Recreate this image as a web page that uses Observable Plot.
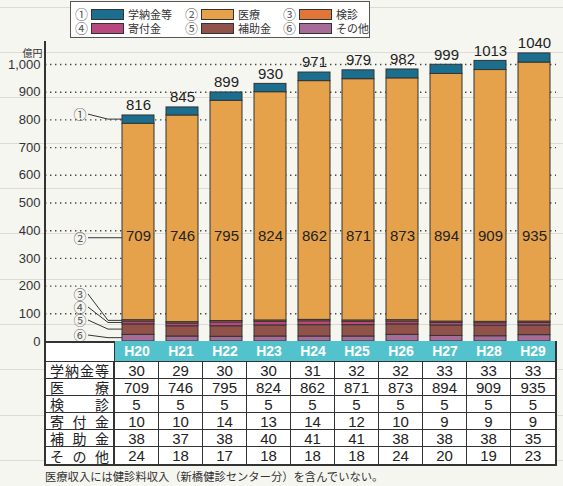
<!DOCTYPE html>
<html>
<head>
<meta charset="utf-8">
<script src="https://cdn.jsdelivr.net/npm/d3@7"></script>
<script src="https://cdn.jsdelivr.net/npm/@observablehq/plot@0.6"></script>
<style>
  html, body { margin: 0; padding: 0; }
  body {
    width: 563px; height: 486px; overflow: hidden;
    background-color: #f6f6f1;
    background-image: repeating-linear-gradient(to bottom,
      transparent 0px, transparent 6.8px, #dddbd3 6.8px, #dddbd3 7.9px, transparent 7.9px, transparent 45.3px);
    font-family: "Liberation Sans", Arial, sans-serif;
    color: #222;
  }
  #wrap { position: relative; width: 563px; height: 486px; }
  #chart { position: absolute; left: 0; top: 0; }
  #legend {
    position: absolute; left: 70px; top: 1px; width: 300px; height: 37px;
    box-sizing: border-box; background: #fff; border: 1px solid #555;
    font-family: "Noto Sans CJK JP", sans-serif; font-size: 11px; color: #333;
  }
  .li { position: absolute; height: 14px; line-height: 14px; white-space: nowrap; }
  .li .num { position: absolute; left: 0; top: 0; width: 13px; text-align: center; color: #555; font-size: 13px; line-height: 14px; }
  .li .sw { position: absolute; left: 16px; top: 2px; width: 31px; height: 9px; border: 1px solid #333; }
  .li .lb { position: absolute; left: 53px; top: 0; }
  #table {
    position: absolute; left: 44px; top: 341px; width: 513px; height: 125px;
    box-sizing: border-box; border: 2px solid #333; border-top: none; background: #fff;
    display: grid; grid-template-columns: 69px repeat(10, 1fr); grid-template-rows: 21px repeat(6, 1fr);
  }
  .c { box-sizing: border-box; border-right: 1.5px solid #333; border-bottom: 1px solid #333; line-height: 1;
       display: flex; align-items: center; justify-content: center; font-size: 15px; color: #222; overflow: visible; }
  .c.last { border-right: none; }
  .c.rowlast { border-bottom: none; }
  .h { background: #52c3cd; color: #fff; font-weight: bold; font-size: 14px; border-right: none; border-bottom: 1.5px solid #333; }
  .corner { border-top: 2px solid #333; border-bottom: 1.5px solid #333; background: #fff; }
  .rl { justify-content: space-between; padding: 0 4px; font-family: "Noto Sans CJK JP", sans-serif; font-size: 14px; border-right: 2px solid #333; }
  #note { position: absolute; left: 45px; top: 469px; line-height: 14px; font-family: "Noto Sans CJK JP", sans-serif; font-size: 11.3px; color: #333; white-space: nowrap; }
</style>
</head>
<body>
<div id="wrap">
  <div id="chart"></div>
  <div id="legend"></div>
  <div id="table"></div>
  <div id="note"></div>
</div>
<script>
// ---- data ----
const years = ["H20","H21","H22","H23","H24","H25","H26","H27","H28","H29"];
const seriesNames = ["学納金等","医療","検診","寄付金","補助金","その他"];
const rowLabels = ["学納金等","医療","検診","寄付金","補助金","その他"];
const circled = ["①","②","③","④","⑤","⑥"];
const gakunokin = [30,29,30,30,31,32,32,33,33,33];
const iryo      = [709,746,795,824,862,871,873,894,909,935];
const kenshin   = [5,5,5,5,5,5,5,5,5,5];
const kifukin   = [10,10,14,13,14,12,10,9,9,9];
const hojokin   = [38,37,38,40,41,41,38,38,38,35];
const sonota    = [24,18,17,18,18,18,24,20,19,23];
const totals    = [816,845,899,930,971,979,982,999,1013,1040];
const yTicks    = [0,100,200,300,400,500,600,700,800,900,1000];
const gridTicks = [100,200,300,400,500,600,700,800,900,1000];
const colors    = ["#1c6e8e","#e6a24b","#e27638","#b8487d","#91524a","#a66b96"];
const unitLabel = "億円";
const footnote  = "医療収入には健診料収入（新橋健診センター分）を含んでいない。";

const seriesValues = [gakunokin, iryo, kenshin, kifukin, hojokin, sonota];

// long data in stacking order (bottom first)
const stackOrder = [5,4,3,2,1,0];
const long = [];
for (const s of stackOrder) {
  years.forEach((yr, i) => long.push({year: yr, series: seriesNames[s], value: seriesValues[s][i]}));
}
const totalData = years.map((yr, i) => ({year: yr, total: totals[i]}));
const medLabelY = 380;
const medData = years.map((yr, i) => ({year: yr, v: iryo[i]}));

const chart = Plot.plot({
  width: 563, height: 342,
  marginTop: 64, marginBottom: 1, marginLeft: 45, marginRight: 7,
  style: {background: "transparent", fontFamily: "'Liberation Sans', Arial, sans-serif", color: "#333", overflow: "visible"},
  x: {domain: years, range: [116, 556], paddingInner: 0.27, paddingOuter: 0.135, axis: null},
  y: {domain: [0, 1000], axis: null},
  color: {domain: seriesNames, range: colors},
  marks: [
    Plot.ruleY(gridTicks, {stroke: "#444", strokeDasharray: "1.4,3.6", strokeWidth: 1.4}),
    Plot.barY(long, {x: "year", y: "value", fill: "series", stroke: "#333", strokeWidth: 1}),
    Plot.axisY({ticks: yTicks, tickSize: 0, tickPadding: 5, tickFormat: d3.format(","), fontSize: 13, fill: "#333", label: null}),
    Plot.text([unitLabel], {frameAnchor: "top-left", dx: -3, dy: -15, textAnchor: "end", fontSize: 10, fill: "#333", fontFamily: "Noto Sans CJK JP"}),
    Plot.text(totalData, {x: "year", y: "total", text: d => String(d.total), dy: -10, fontSize: 15, fill: "#222"}),
    Plot.text(medData, {x: "year", y: () => medLabelY, text: d => String(d.v), fontSize: 15, fill: "#222"})
  ]
});
document.getElementById("chart").appendChild(chart);

// ---- axis line and callouts ----
const ys = chart.scale("y"), xs = chart.scale("x");
const svg = d3.select(chart);
const y0 = ys.apply(0);
svg.append("line").attr("x1", 45).attr("x2", 45).attr("y1", 41).attr("y2", y0 + 1)
  .attr("stroke", "#333").attr("stroke-width", 2);

const bx = xs.apply(years[0]);
// cumulative mids for first year
const cum = {};
let acc = 0;
for (const s of stackOrder) { const v = seriesValues[s][0]; cum[s] = acc + v / 2; acc += v; }
const circleY = [ys.apply(cum[0]) - 6, ys.apply(medLabelY) + 2, y0 - 48, y0 - 35, y0 - 22, y0 - 7];
const g = svg.append("g");
circled.forEach((c, k) => {
  const cy = circleY[k];
  const ty = k === 1 ? cy : ys.apply(cum[k]);
  const pts = k === 1 ? [[88, cy], [bx, cy]] : [[88, cy + 1], [108, ty], [bx, ty]];
  g.append("path").attr("d", d3.line()(pts)).attr("fill", "none").attr("stroke", "#333").attr("stroke-width", 1);
  g.append("text").attr("x", 80).attr("y", cy).attr("text-anchor", "middle").attr("dominant-baseline", "central")
    .attr("font-size", 13).attr("fill", "#555").attr("font-family", "Noto Sans CJK JP").text(c);
});

// ---- legend ----
const legend = document.getElementById("legend");
const colX = [4, 114, 212];
const rowY = [5, 19];
seriesNames.forEach((s, i) => {
  const d = document.createElement("div");
  d.className = "li";
  d.style.left = colX[i % 3] + "px";
  d.style.top = rowY[Math.floor(i / 3)] + "px";
  d.innerHTML = `<span class="num">${circled[i]}</span><span class="sw" style="background:${colors[i]}"></span><span class="lb">${s}</span>`;
  legend.appendChild(d);
});

// ---- table ----
const table = document.getElementById("table");
const corner = document.createElement("div");
corner.className = "c corner";
table.appendChild(corner);
years.forEach((yr) => {
  const d = document.createElement("div");
  d.className = "c h";
  d.textContent = yr;
  table.appendChild(d);
});
rowLabels.forEach((lab, r) => {
  const l = document.createElement("div");
  l.className = "c rl" + (r === rowLabels.length - 1 ? " rowlast" : "");
  l.innerHTML = [...lab].map(ch => `<span>${ch}</span>`).join("");
  table.appendChild(l);
  seriesValues[r].forEach((v, i) => {
    const d = document.createElement("div");
    d.className = "c" + (i === years.length - 1 ? " last" : "") + (r === rowLabels.length - 1 ? " rowlast" : "");
    d.textContent = v;
    table.appendChild(d);
  });
});
document.getElementById("note").textContent = footnote;
</script>
</body>
</html>
